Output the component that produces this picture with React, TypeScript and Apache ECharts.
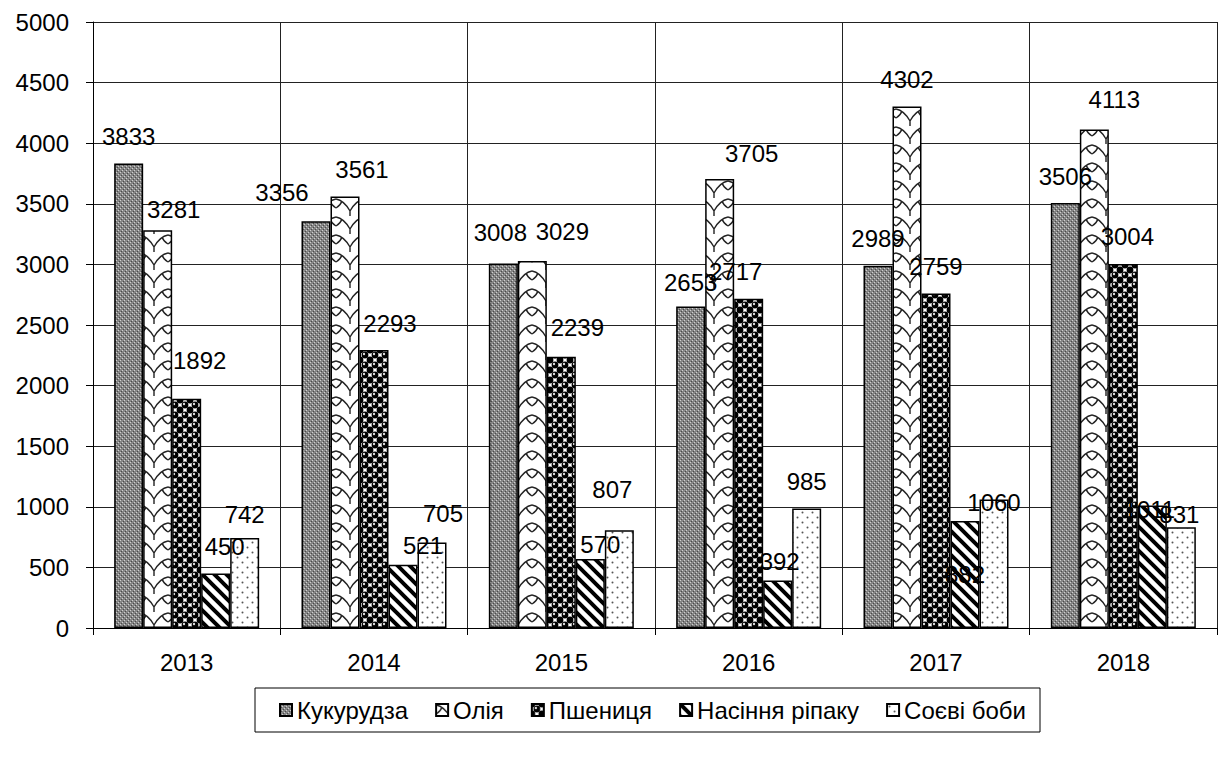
import React, { useEffect, useRef } from "react";
import * as echarts from "echarts";

const years = ["2013", "2014", "2015", "2016", "2017", "2018"];
const seriesNames = ["Кукурудза", "Олія", "Пшениця", "Насіння ріпаку", "Соєві боби"];
const corn = [3833, 3356, 3008, 2653, 2989, 3506];
const oil = [3281, 3561, 3029, 3705, 4302, 4113];
const wheat = [1892, 2293, 2239, 2717, 2759, 3004];
const rapeseed = [450, 521, 570, 392, 882, 1011];
const soybeans = [742, 705, 807, 985, 1060, 831];
const seriesValues = [corn, oil, wheat, rapeseed, soybeans];

const FONT = "'Liberation Sans', Arial, sans-serif";

function makeCanvas(w: number, h: number, draw: (ctx: CanvasRenderingContext2D) => void) {
  const c = document.createElement("canvas");
  c.width = w;
  c.height = h;
  const ctx = c.getContext("2d") as CanvasRenderingContext2D;
  draw(ctx);
  return c;
}

function patterns() {
  const p1 = makeCanvas(4, 4, (ctx) => {
    ctx.fillStyle = "#858585";
    ctx.fillRect(0, 0, 4, 4);
    ctx.fillStyle = "#cfcfcf";
    ctx.fillRect(0, 0, 1, 1);
    ctx.fillRect(2, 2, 1, 1);
    ctx.fillStyle = "#4a4a4a";
    ctx.fillRect(1, 3, 1, 1);
    ctx.fillRect(3, 1, 1, 1);
  });
  const p2 = makeCanvas(28, 18, (ctx) => {
    ctx.fillStyle = "#fff";
    ctx.fillRect(0, 0, 28, 18);
    ctx.strokeStyle = "#222";
    ctx.lineWidth = 1.4;
    ctx.beginPath();
    ctx.moveTo(0, 1);
    ctx.bezierCurveTo(6, 2, 10, 6, 14, 13);
    ctx.moveTo(28, 1);
    ctx.bezierCurveTo(22, 2, 18, 6, 14, 13);
    ctx.moveTo(14, 13);
    ctx.lineTo(14, 18);
    ctx.moveTo(0, 10);
    ctx.bezierCurveTo(3, 8, 5, 6, 6, 3);
    ctx.moveTo(28, 10);
    ctx.bezierCurveTo(25, 8, 23, 6, 22, 3);
    ctx.stroke();
  });
  const p3 = makeCanvas(10, 10, (ctx) => {
    ctx.fillStyle = "#fff";
    ctx.fillRect(0, 0, 10, 10);
    ctx.fillStyle = "#000";
    const pts = [[5, 5], [0, 0], [10, 0], [0, 10], [10, 10]];
    pts.forEach(([x, y]) => {
      ctx.beginPath();
      ctx.arc(x, y, 3.4, 0, Math.PI * 2);
      ctx.fill();
    });
    ctx.fillStyle = "#ddd";
    ctx.beginPath();
    ctx.arc(4, 4, 1.2, 0, Math.PI * 2);
    ctx.fill();
  });
  const p4 = makeCanvas(12, 12, (ctx) => {
    ctx.fillStyle = "#fff";
    ctx.fillRect(0, 0, 12, 12);
    ctx.strokeStyle = "#000";
    ctx.lineWidth = 4;
    ctx.beginPath();
    [-12, 0, 12].forEach((c) => {
      ctx.moveTo(c - 2, -2);
      ctx.lineTo(c + 14, 14);
    });
    ctx.stroke();
  });
  const p5 = makeCanvas(10, 10, (ctx) => {
    ctx.fillStyle = "#fff";
    ctx.fillRect(0, 0, 10, 10);
    ctx.fillStyle = "#555";
    ctx.beginPath();
    ctx.arc(2.5, 2.5, 1, 0, Math.PI * 2);
    ctx.arc(7.5, 7.5, 1, 0, Math.PI * 2);
    ctx.fill();
  });
  return [
    { c: p1, w: 4, h: 4 },
    { c: p2, w: 28, h: 18 },
    { c: p3, w: 10, h: 10 },
    { c: p4, w: 12, h: 12 },
    { c: p5, w: 10, h: 10 },
  ].map((p) => ({
    image: p.c,
    imageWidth: p.w,
    imageHeight: p.h,
    repeat: "repeat",
  }));
}

// Manual label nudges (px) as placed in the original chart: [series][year] -> [dx, dy]
const LABEL_NUDGE: number[][][] = [
  [[0, 0], [-34, -2], [-3, -4], [0, 3], [0, 0], [0, 0]],
  [[16, 6], [17, 0], [30, -2], [32, 2], [0, 0], [20, -3]],
  [[13, -11], [16, 0], [16, -2], [-13, 0], [0, 0], [4, 0]],
  [[9, 0], [20, 8], [10, 13], [2, 8], [0, 80], [-3, 31]],
  [[0, 3], [11, -2], [-7, -14], [0, 0], [0, 30], [-2, 14]],
];

export default function App() {
  const ref = useRef<HTMLDivElement>(null);
  useEffect(() => {
    if (!ref.current) return;
    const chart = echarts.init(ref.current, null, { renderer: "svg" });
    const pats = patterns();
    const option: any = {
      animation: false,
      backgroundColor: "#fff",
      grid: { left: 93, right: 4, top: 22, bottom: 132 },
      legend: {
        left: 255,
        top: 688,
        orient: "horizontal",
        icon: "rect",
        itemWidth: 12,
        itemHeight: 12,
        itemGap: 27,
        borderColor: "#000",
        borderWidth: 1,
        padding: [10, 14, 10, 24],
        textStyle: { fontSize: 24, fontFamily: FONT, color: "#000" },
        data: seriesNames,
      },
      xAxis: {
        type: "category",
        data: years,
        axisLine: { show: true, lineStyle: { color: "#000", width: 1 } },
        axisTick: { show: true, length: 7, lineStyle: { color: "#000" } },
        axisLabel: { fontSize: 24, fontFamily: FONT, color: "#000", margin: 22 },
        splitLine: { show: true, lineStyle: { color: "#222", width: 1 } },
      },
      yAxis: {
        type: "value",
        min: 0,
        max: 5000,
        interval: 500,
        axisLine: { show: true, lineStyle: { color: "#000", width: 1 } },
        axisTick: { show: true, length: 7, lineStyle: { color: "#000" } },
        axisLabel: {
          fontSize: 24,
          fontFamily: FONT,
          color: "#000",
          margin: 24,
          formatter: (v: number) => String(v),
        },
        splitLine: { show: true, lineStyle: { color: "#222", width: 1 } },
      },
      series: seriesNames.map((name, i) => ({
        name,
        type: "bar",
        data: seriesValues[i].map((v, j) => ({
          value: v,
          label: { offset: LABEL_NUDGE[i][j] },
        })),
        barWidth: 29,
        barGap: "0%",
        itemStyle: { color: pats[i], borderColor: "#000", borderWidth: 1.5 },
        emphasis: { disabled: true },
        label: {
          show: true,
          position: "top",
          distance: 15,
          fontSize: 24,
          fontFamily: FONT,
          color: "#000",
        },
      })),
    };
    chart.setOption(option);
    return () => chart.dispose();
  }, []);
  return (
    <div
      ref={ref}
      style={{ position: "fixed", left: 0, top: 0, width: 1221, height: 760 }}
    />
  );
}
